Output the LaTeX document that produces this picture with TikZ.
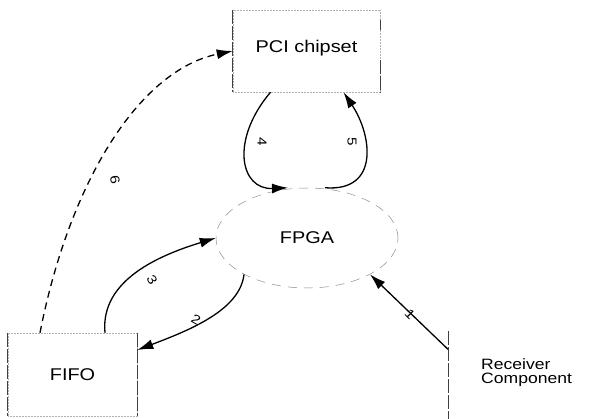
\documentclass[tikz,border=0pt]{standalone}
\usepackage{fontspec}
\setmainfont{Liberation Sans}[FakeStretch=1.17]
\usetikzlibrary{shapes.geometric,arrows.meta}
\tikzset{
  lbl/.style={font=\fontsize{17}{15}\selectfont},
  box/.style={rectangle, draw=black!30, densely dotted, line width=0.5pt, inner sep=0pt, lbl},
  side/.style={draw=black!75, line width=0.6pt, dash pattern=on 14pt off 2pt},
  oval/.style={ellipse, draw=black!45, line width=0.5pt, dash pattern=on 9pt off 7pt, inner sep=0pt, lbl},
  edge/.style={line width=1.3pt, -{Latex[length=16pt,width=10pt]}},
  dedge/.style={edge, dash pattern=on 7pt off 5pt},
  num/.style={font=\fontsize{13}{13}\selectfont, inner sep=0pt}
}
\begin{document}
\begin{tikzpicture}[x=1pt,y=-1pt]
\useasboundingbox[fill=white] (0,0) rectangle (593,419);
% nodes
\node[box, minimum width=147pt, minimum height=82pt] (pci) at (306.5,51) {};
\node[lbl] (pcit) at (306.5,48) {PCI chipset};
\node[oval, minimum width=182pt, minimum height=100pt] (fpga) at (307,238) {FPGA};
\node[box, minimum width=129pt, minimum height=83pt] (fifo) at (72.5,374.5) {FIFO};
\node[rectangle, anchor=west, inner xsep=33pt, inner ysep=0pt, minimum height=87pt, align=left, font=\fontsize{15}{14}\selectfont] (rcv) at (448,373) {Receiver\\Component};
% visible box sides
\draw[side] (pci.north west) -- (pci.south west);
\draw[side] ([yshift=-10pt]pci.north east) -- ([yshift=-20pt]pci.north east);
\draw[side] ([yshift=-50pt]pci.north east) -- (pci.south east);
\draw[side] (fifo.north west) -- (fifo.south west);
\draw[side] (fifo.north east) -- (fifo.south east);
\draw[side] ([yshift=-2pt]rcv.north west) -- ([yshift=-6pt]rcv.south west);
% connectors
\draw[dedge] ([xshift=-32.5pt]fifo.north) .. controls (70,180) and (140,70) .. (pci.west);
\draw[edge] ([xshift=-36pt]pci.south) .. controls (230,140) and (240,190) .. ([xshift=-19pt]fpga.north);
\draw[edge] ([xshift=18pt]fpga.north) .. controls (380,192) and (372,135) .. ([xshift=37pt]pci.south);
\draw[edge] ([xshift=32.5pt]fifo.north) .. controls (100,280) and (160,255) .. (fpga.west);
\draw[edge] (fpga.210) .. controls (240,310) and (190,330) .. ([yshift=24.5pt]fifo.east);
\draw[edge] ([yshift=-20pt]rcv.north west) -- (fpga.-30);
% connector labels
\node[num, rotate=-80] (n6) at (115,180) {6};
\node[num, rotate=-90] (n4) at (262,142) {4};
\node[num, rotate=-90] (n5) at (352,142) {5};
\node[num, rotate=-60] (n3) at (152,280) {3};
\node[num, rotate=-30] (n2) at (196,320) {2};
\node[num, rotate=-45] (n1) at (410,314) {1};
\end{tikzpicture}
\end{document}
